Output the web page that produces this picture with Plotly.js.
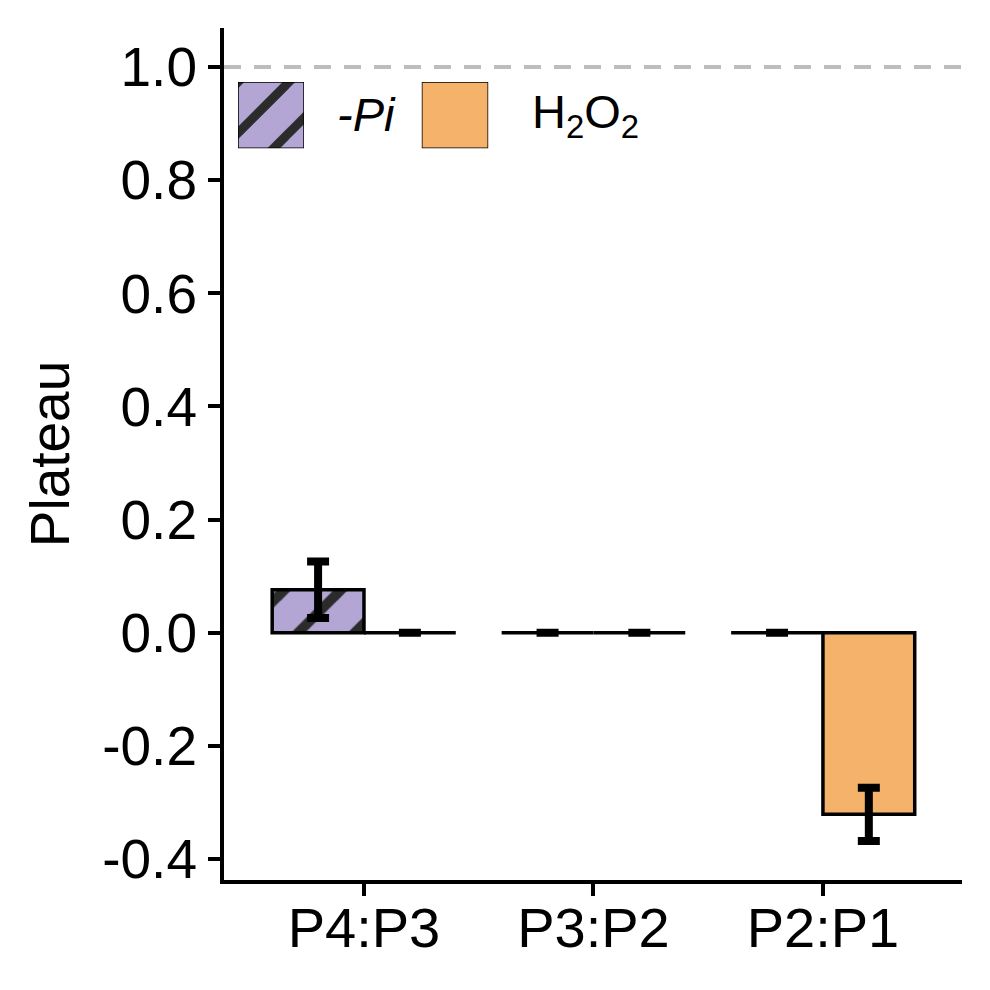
<!DOCTYPE html>
<html><head><meta charset="utf-8">
<script src="https://cdn.plot.ly/plotly-3.0.1.min.js"></script>
<style>body{margin:0;padding:0;background:#fff}</style>
</head><body>
<div id="chart" style="width:990px;height:990px"></div>
<script>
var categories = ['P4:P3', 'P3:P2', 'P2:P1'];
var seriesNames = ['-Pi', 'H2O2'];
var piValues = [0.076, 0, 0];
var piErrors = [0.05, 0, 0];
var h2o2Values = [0, 0, -0.321];
var h2o2Errors = [0, 0, 0.047];
var yTickVals = [-0.4, -0.2, 0.0, 0.2, 0.4, 0.6, 0.8, 1.0];
var yTickText = ['-0.4', '-0.2', '0.0', '0.2', '0.4', '0.6', '0.8', '1.0'];
var referenceLevel = 1.0;

var purple = '#B3A6D4';
var orange = '#F5B26B';
var FONT = 'Liberation Sans, Arial, sans-serif';
var piPattern = {shape: '/', fgcolor: '#2B2B2B', fgopacity: 1, bgcolor: purple, fillmode: 'overlay', size: 40, solidity: 0.25};

var errStyle = {type: 'data', visible: true, color: '#000', thickness: 8, width: 11};
var traces = [
  {type: 'bar', name: seriesNames[0], x: [0, 1, 2], y: piValues,
   marker: {color: purple, line: {color: '#000', width: 3.5}, pattern: piPattern},
   error_y: Object.assign({array: piErrors}, errStyle),
   showlegend: false},
  {type: 'bar', name: seriesNames[1], x: [0, 1, 2], y: h2o2Values,
   marker: {color: orange, line: {color: '#000', width: 3.5}},
   error_y: Object.assign({array: h2o2Errors}, errStyle),
   showlegend: false},
  // legend swatches
  {type: 'bar', x: [0], y: [1], width: [1], xaxis: 'x2', yaxis: 'y2', cliponaxis: false,
   marker: {color: purple, line: {color: '#000', width: 1.5},
            pattern: Object.assign({}, piPattern, {size: 36})},
   showlegend: false, hoverinfo: 'skip'},
  {type: 'bar', x: [0], y: [1], width: [1], xaxis: 'x3', yaxis: 'y3', cliponaxis: false,
   marker: {color: orange, line: {color: '#000', width: 1.5}},
   showlegend: false, hoverinfo: 'skip'}
];

var hiddenAx = {visible: false, fixedrange: true};
var layout = {
  width: 990, height: 990,
  margin: {l: 224, r: 28, t: 28, b: 110},
  paper_bgcolor: '#fff', plot_bgcolor: '#fff',
  barmode: 'group', bargap: 0.2, bargroupgap: 0,
  font: {family: FONT, color: '#000'},
  xaxis: {
    range: [-0.61, 2.606], tickvals: [0, 1, 2], ticktext: categories,
    showgrid: false, zeroline: false, showline: true, linecolor: '#000', linewidth: 4,
    ticks: 'outside', ticklen: 12, tickwidth: 4, tickcolor: '#000',
    ticklabelstandoff: -16,
    tickfont: {size: 56, family: FONT, color: '#000'}
  },
  yaxis: {
    range: [-0.437, 1.069], tickvals: yTickVals, ticktext: yTickText,
    showgrid: false, zeroline: false, showline: true, linecolor: '#000', linewidth: 4,
    ticks: 'outside', ticklen: 12, tickwidth: 4, tickcolor: '#000',
    tickfont: {size: 55, family: FONT, color: '#000'},
    title: {text: 'Plateau', font: {size: 55, family: FONT, color: '#000'}, standoff: 16}
  },
  xaxis2: Object.assign({domain: [0.019, 0.1084], range: [-0.5, 0.5], anchor: 'y2'}, hiddenAx),
  yaxis2: Object.assign({domain: [0.859, 0.9366], range: [0, 1], anchor: 'x2'}, hiddenAx),
  xaxis3: Object.assign({domain: [0.268, 0.358], range: [-0.5, 0.5], anchor: 'y3'}, hiddenAx),
  yaxis3: Object.assign({domain: [0.859, 0.9366], range: [0, 1], anchor: 'x3'}, hiddenAx),
  shapes: [{type: 'line', xref: 'paper', x0: 0, x1: 1, yref: 'y', y0: referenceLevel, y1: referenceLevel,
            line: {color: '#BDBDBD', width: 4, dash: '17px,13px'}, layer: 'below'}],
  annotations: [
    {xref: 'paper', yref: 'paper', x: 0.150, y: 0.898, xanchor: 'left', yanchor: 'middle',
     text: '<i>' + seriesNames[0] + '</i>', showarrow: false, font: {size: 47, family: FONT, color: '#000'}},
    {xref: 'paper', yref: 'paper', x: 0.4146, y: 0.898, xanchor: 'left', yanchor: 'middle',
     text: 'H<sub>2</sub>O<sub>2</sub>', showarrow: false, font: {size: 47, family: FONT, color: '#000'}}
  ],
  showlegend: false
};
Plotly.newPlot('chart', traces, layout, {displayModeBar: false, staticPlot: true});
</script>
</body></html>
